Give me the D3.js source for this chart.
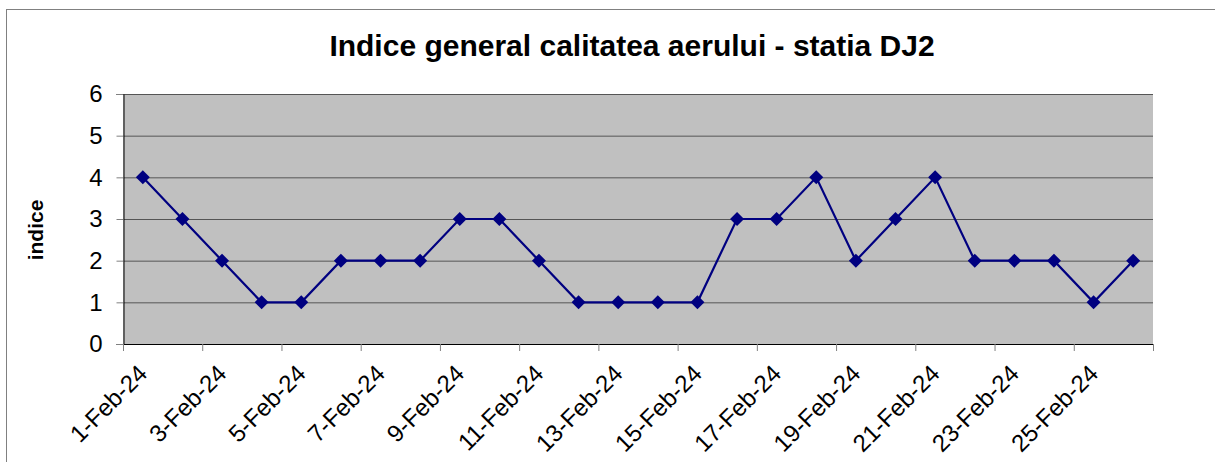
<!DOCTYPE html>
<html>
<head>
<meta charset="utf-8">
<script src="https://cdn.jsdelivr.net/npm/d3@7.9.0/dist/d3.min.js"></script>
<style>
  body { margin: 0; background: #fff; }
  svg { display: block; font-family: "Liberation Sans", Arial, sans-serif; }
</style>
</head>
<body>
<svg id="chart" width="1215" height="462"></svg>
<script>
const days = ['1-Feb-24','2-Feb-24','3-Feb-24','4-Feb-24','5-Feb-24','6-Feb-24','7-Feb-24',
  '8-Feb-24','9-Feb-24','10-Feb-24','11-Feb-24','12-Feb-24','13-Feb-24','14-Feb-24',
  '15-Feb-24','16-Feb-24','17-Feb-24','18-Feb-24','19-Feb-24','20-Feb-24','21-Feb-24',
  '22-Feb-24','23-Feb-24','24-Feb-24','25-Feb-24','26-Feb-24'];
const indice = [4,3,2,1,1,2,2,2,3,3,2,1,1,1,1,3,3,4,2,3,4,2,2,2,1,2];
const yTicks = [0,1,2,3,4,5,6];

const plotLeft = 123, plotRight = 1153, plotTop = 94, plotBottom = 344;

const svg = d3.select('#chart');

// chart frame
svg.append('rect')
  .attr('x', 6.5).attr('y', 9.5)
  .attr('width', 1250).attr('height', 500)
  .attr('fill', 'none').attr('stroke', '#808080').attr('stroke-width', 1);

const x = d3.scaleBand().domain(days).range([plotLeft, plotRight]).padding(0);
const y = d3.scaleLinear().domain([0, 6]).range([plotBottom, plotTop]);

svg.append('rect')
  .attr('x', plotLeft).attr('y', plotTop)
  .attr('width', plotRight - plotLeft).attr('height', plotBottom - plotTop)
  .attr('fill', '#c0c0c0');

// gridlines
svg.append('g')
  .selectAll('line')
  .data(yTicks.filter(d => d > 0))
  .join('line')
  .attr('x1', plotLeft).attr('x2', plotRight)
  .attr('y1', d => y(d) + 0.5).attr('y2', d => y(d) + 0.5)
  .attr('stroke', '#555').attr('stroke-width', 1);

// y axis
const yAxis = svg.append('g')
  .attr('transform', `translate(${plotLeft + 0.5},0)`)
  .call(d3.axisLeft(y).tickValues(yTicks).tickSize(7).tickPadding(14).tickFormat(d3.format('d')));
yAxis.select('.domain').attr('stroke', '#000');
yAxis.selectAll('.tick line').attr('stroke', '#808080');
yAxis.selectAll('.tick text').attr('font-size', 24).attr('fill', '#000')
  .attr('font-family', '"Liberation Sans", Arial, sans-serif');

// x axis: ticks every second category boundary
const boundaries = d3.range(0, days.length + 1, 2);
const step = x.step();
svg.append('line')
  .attr('x1', plotLeft).attr('x2', plotRight)
  .attr('y1', plotBottom + 0.5).attr('y2', plotBottom + 0.5)
  .attr('stroke', '#000');
svg.append('g')
  .selectAll('line')
  .data(boundaries)
  .join('line')
  .attr('x1', d => plotLeft + d * step + 0.5).attr('x2', d => plotLeft + d * step + 0.5)
  .attr('y1', plotBottom).attr('y2', plotBottom + 7)
  .attr('stroke', '#808080');

svg.append('g')
  .selectAll('text')
  .data(days.filter((d, i) => i % 2 === 0))
  .join('text')
  .attr('transform', d => `translate(${x(d) + x.bandwidth() / 2 + 6},${plotBottom + 31}) rotate(-45)`)
  .attr('text-anchor', 'end')
  .attr('font-size', 24)
  .attr('fill', '#000')
  .text(d => d);

// series
const line = d3.line()
  .x((d, i) => x(days[i]) + x.bandwidth() / 2)
  .y(d => y(d));

svg.append('path')
  .datum(indice)
  .attr('d', line)
  .attr('fill', 'none')
  .attr('stroke', '#000080')
  .attr('stroke-width', 2.2);

svg.append('g')
  .selectAll('path')
  .data(indice)
  .join('path')
  .attr('transform', (d, i) => `translate(${x(days[i]) + x.bandwidth() / 2},${y(d)})`)
  .attr('d', 'M0,-7L7,0L0,7L-7,0Z')
  .attr('fill', '#000080');

// titles
svg.append('text')
  .attr('x', 632).attr('y', 56)
  .attr('text-anchor', 'middle')
  .attr('font-size', 30).attr('font-weight', 'bold')
  .text('Indice general calitatea aerului - statia DJ2');

svg.append('text')
  .attr('transform', 'translate(43,230) rotate(-90)')
  .attr('text-anchor', 'middle')
  .attr('font-size', 21).attr('font-weight', 'bold')
  .text('indice');
</script>
</body>
</html>
